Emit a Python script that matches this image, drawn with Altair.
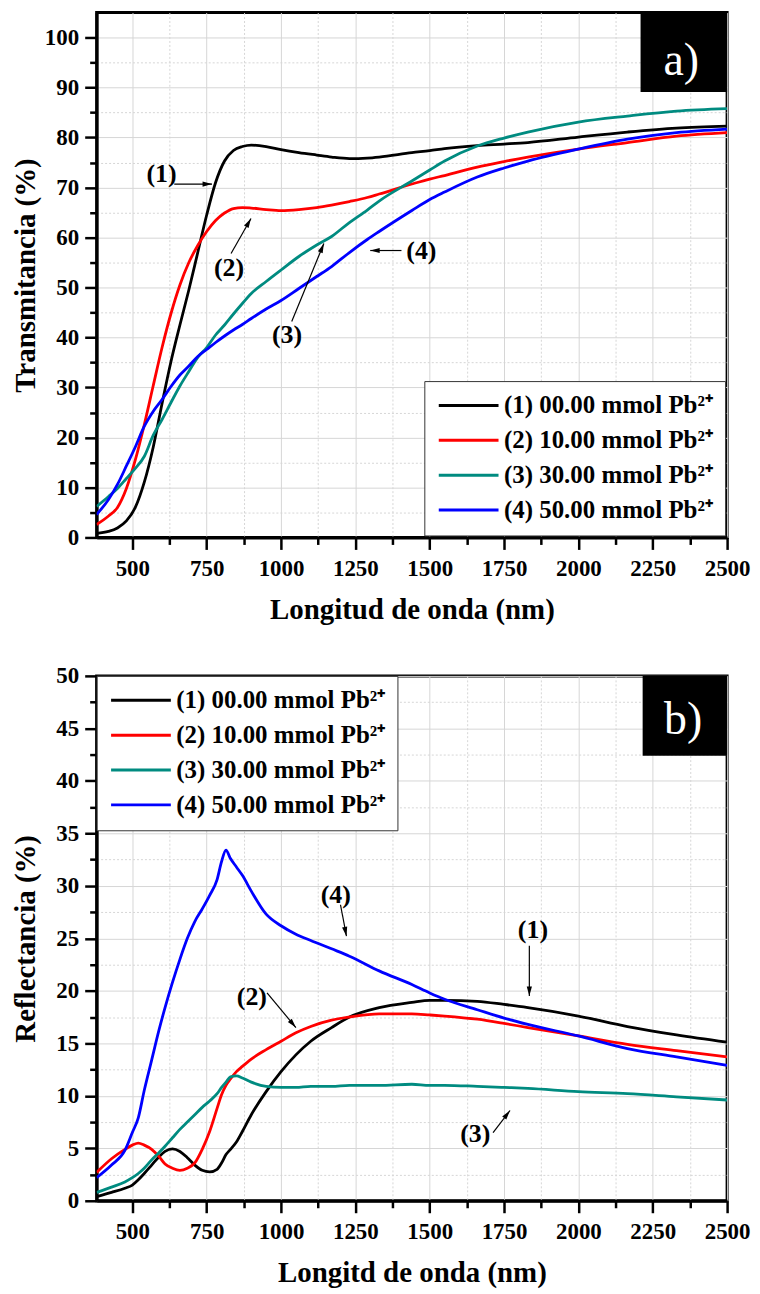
import altair as alt
import pandas as pd

# ---------------- data ----------------
series = ["(1) 00.00 mmol Pb²⁺", "(2) 10.00 mmol Pb²⁺",
          "(3) 30.00 mmol Pb²⁺", "(4) 50.00 mmol Pb²⁺"]
colors = ["#000000", "#ff0000", "#008b80", "#0000ff"]

wl_t = [380, 420, 450, 480, 510, 540, 570, 600, 630, 660, 690, 720, 750, 780, 810,
        840, 870, 900, 950, 1000, 1060, 1120, 1170, 1230, 1290, 1330, 1440, 1500,
        1550, 1660, 1750, 1830, 2000, 2165, 2330, 2500]
t1 = [0.8, 1.2, 1.9, 3.3, 6.0, 11.0, 18.0, 26.8, 35.2, 42.5, 49.5, 57.0, 64.5, 71.0, 75.3,
      77.4, 78.2, 78.5, 78.2, 77.6, 77.0, 76.5, 76.1, 75.8, 75.9, 76.1, 77.0, 77.4,
      77.8, 78.4, 78.7, 79.0, 80.1, 81.1, 81.9, 82.3]
t2 = [2.6, 4.3, 6.0, 9.8, 15.5, 22.5, 30.3, 38.0, 44.8, 50.5, 55.0, 58.4, 61.2, 63.4, 64.9,
      65.8, 66.0, 65.9, 65.6, 65.4, 65.6, 66.0, 66.5, 67.2, 68.0, 68.7, 70.7, 71.7,
      72.4, 74.1, 75.2, 76.1, 77.7, 79.0, 80.3, 81.0]
t3 = [6.2, 8.2, 9.8, 11.8, 13.8, 16.2, 20.4, 23.6, 27.0, 30.3, 33.2, 36.0, 38.0, 40.5, 42.5,
      44.7, 46.8, 48.8, 51.2, 53.5, 56.2, 58.5, 60.2, 63.0, 65.5, 67.3, 71.3, 73.5,
      75.3, 78.3, 79.9, 81.1, 83.1, 84.3, 85.3, 85.8]
t4 = [4.6, 7.6, 10.6, 14.3, 18.1, 22.2, 25.2, 27.6, 30.2, 32.5, 34.3, 36.2, 37.6, 39.0, 40.3,
      41.5, 42.6, 43.8, 45.7, 47.4, 49.8, 52.2, 54.2, 57.0, 59.6, 61.2, 65.4, 67.6,
      69.1, 72.1, 73.9, 75.3, 77.7, 79.7, 81.0, 81.7]

wl_r = [380, 430, 475, 500, 520, 540, 565, 590, 610, 635, 660, 685, 710, 735, 760, 785,
        800, 815, 830, 850, 870, 900, 950, 1000, 1050, 1100, 1170, 1230, 1330, 1440,
        1500, 1550, 1660, 1750, 1830, 2000, 2165, 2330, 2500]
r1 = [0.4, 0.8, 1.2, 1.5, 2.0, 2.6, 3.4, 4.2, 4.7, 4.95, 4.7, 4.1, 3.4, 2.9, 2.75, 3.0,
      3.6, 4.4, 4.9, 5.6, 6.6, 8.2, 10.4, 12.3, 13.9, 15.2, 16.5, 17.5, 18.4, 18.9,
      19.1, 19.1, 19.0, 18.7, 18.4, 17.6, 16.6, 15.8, 15.1]
r2 = [2.7, 4.0, 4.9, 5.3, 5.5, 5.3, 4.9, 4.2, 3.5, 3.1, 2.9, 3.1, 3.6, 4.9, 6.6, 8.8,
      10.1, 11.0, 11.6, 12.3, 12.8, 13.5, 14.4, 15.2, 16.0, 16.6, 17.2, 17.5, 17.8, 17.8,
      17.7, 17.6, 17.3, 16.9, 16.5, 15.7, 14.9, 14.3, 13.7]
r3 = [0.8, 1.3, 1.8, 2.2, 2.6, 3.1, 3.9, 4.6, 5.2, 6.0, 6.8, 7.5, 8.2, 8.9, 9.5, 10.2,
      10.8, 11.3, 11.8, 11.9, 11.7, 11.3, 10.9, 10.8, 10.8, 10.9, 10.9, 11.0, 11.0, 11.1,
      11.0, 11.0, 10.9, 10.8, 10.7, 10.4, 10.2, 9.9, 9.6]
r4 = [2.2, 3.4, 4.8, 6.5, 7.9, 10.5, 13.4, 16.3, 18.4, 20.8, 23.0, 25.0, 26.6, 27.8, 29.1, 30.6,
      32.3, 33.4, 32.6, 31.8, 31.0, 29.5, 27.3, 26.2, 25.4, 24.8, 24.0, 23.3, 21.9, 20.6,
      19.8, 19.2, 18.2, 17.4, 16.8, 15.7, 14.5, 13.7, 12.9]

# annotations (data coordinates)
lab_t = ["(1)", "(2)", "(3)", "(4)"]
lab_t_x = [598, 825, 1020, 1472]
lab_t_y = [72.7, 53.8, 40.4, 57.2]
arr_t_x0 = [641, 832, 1036, 1405]
arr_t_y0 = [70.7, 56.8, 43.2, 57.4]
arr_t_x1 = [768, 899, 1144, 1300]
arr_t_y1 = [70.7, 63.8, 58.8, 57.4]
arr_t_ang = [90, 29.7, 22.3, 270]

lab_r = ["(1)", "(2)", "(3)", "(4)"]
lab_r_x = [1847, 902, 1653, 1184]
lab_r_y = [25.8, 19.4, 6.4, 29.1]
arr_r_x0 = [1835, 953, 1713, 1200]
arr_r_y0 = [24.3, 19.8, 6.5, 28.2]
arr_r_x1 = [1835, 1050, 1770, 1220]
arr_r_y1 = [19.5, 16.5, 8.6, 25.2]
arr_r_ang = [180, 140, 37.7, 169]

box_t = {"x0": 2209, "x1": 2500, "y0": 89.1, "y1": 105, "tx": 2346, "ty": 95.3, "txt": "a)"}
box_r = {"x0": 2216, "x1": 2500, "y0": 42.4, "y1": 50, "tx": 2352, "ty": 45.8, "txt": "b)"}

x_vals = list(range(500, 2501, 125))
y_vals_t = list(range(0, 101, 5))
y_vals_r = [i * 2.5 for i in range(0, 21)]

FONT = "Liberation Serif"
ARROW = "M0,0L-0.55,2L0.55,2Z"
LEG_SYMBOL = "M-1,0L5,0"


def long_df(wl, ys):
    rows = []
    for s, y in zip(series, ys):
        for w, v in zip(wl, y):
            rows.append({"wl": w, "val": v, "serie": s})
    return pd.DataFrame(rows)


def panel(df, ydom, yvals, ymod, ytitle, xtitle, labs, lx, ly, ax0, ay0, ax1, ay1, ang,
          box, legend_orient, legend_offset):
    xs = alt.Scale(domain=[380, 2500], nice=False, zero=False)
    ys = alt.Scale(domain=ydom, nice=False, zero=False)
    xaxis = alt.Axis(
        values=x_vals, title=xtitle, format="d",
        labelExpr="datum.value % 250 === 0 ? datum.label : ''",
        tickSize={"condition": {"test": "datum.value % 250 === 0", "value": 12}, "value": 7},
        gridDash={"condition": {"test": "datum.value % 250 === 0", "value": []}, "value": [2, 2]},
        labelPadding=8, titleY=72, titleBaseline="middle", labelFlush=False, labelOverlap=False,
    )
    yaxis = alt.Axis(
        values=yvals, title=ytitle, format="d",
        labelExpr=f"datum.value % {ymod} === 0 ? datum.label : ''",
        tickSize={"condition": {"test": f"datum.value % {ymod} === 0", "value": 12}, "value": 7},
        gridDash={"condition": {"test": f"datum.value % {ymod} === 0", "value": []}, "value": [2, 2]},
        labelPadding=6, titleX=-71, titleBaseline="middle", labelFlush=False, labelOverlap=False,
    )

    def X(f):
        return alt.X(f, type="quantitative", scale=xs, axis=xaxis)

    def Y(f):
        return alt.Y(f, type="quantitative", scale=ys, axis=yaxis)

    lines = alt.Chart(df).mark_line(strokeWidth=2.8, clip=True, interpolate="monotone").encode(
        x=X("wl"), y=Y("val"),
        color=alt.Color("serie:N", scale=alt.Scale(domain=series, range=colors),
                        sort=series,
                        legend=alt.Legend(
                            title=None, orient=legend_orient, offset=legend_offset,
                            strokeColor="#333333", fillColor="white", padding=12,
                            symbolType=LEG_SYMBOL, symbolSize=400, symbolStrokeWidth=3,
                            labelFont=FONT, labelFontWeight="bold", labelFontSize=25,
                            labelColor="black", labelLimit=500, rowPadding=9,
                            labelOffset=43)),
    )
    ar = pd.DataFrame({"wl": ax0, "val": ay0, "wl2": ax1, "val2": ay1})
    rules = alt.Chart(ar).mark_rule(strokeWidth=1.2, color="black").encode(
        x=X("wl"), y=Y("val"), x2="wl2", y2="val2")
    hd = pd.DataFrame({"wl": ax1, "val": ay1, "ang": ang})
    heads = alt.Chart(hd).mark_point(shape=ARROW, filled=True, color="black", size=90,
                                     opacity=1, strokeWidth=0).encode(
        x=X("wl"), y=Y("val"), angle=alt.Angle("ang:Q", scale=None))
    tx = pd.DataFrame({"wl": lx, "val": ly, "lab": labs})
    texts = alt.Chart(tx).mark_text(font=FONT, fontWeight="bold", fontSize=26,
                                    color="black").encode(x=X("wl"), y=Y("val"), text="lab:N")
    bx = pd.DataFrame({"wl": [box["x0"]], "wl2": [box["x1"]], "val": [box["y0"]],
                       "val2": [box["y1"]]})
    rect = alt.Chart(bx).mark_rect(color="black").encode(
        x=X("wl"), x2="wl2", y=Y("val"), y2="val2")
    bt = pd.DataFrame({"wl": [box["tx"]], "val": [box["ty"]], "lab": [box["txt"]]})
    btxt = alt.Chart(bt).mark_text(font=FONT, fontSize=46, color="white",
                                   baseline="middle").encode(
        x=X("wl"), y=Y("val"), text="lab:N")
    return alt.layer(lines, rules, heads, texts, rect, btxt).properties(width=633, height=527)


top = panel(long_df(wl_t, [t1, t2, t3, t4]), [0, 105], y_vals_t, 10,
            "Transmitancia (%)", "Longitud de onda (nm)",
            lab_t, lab_t_x, lab_t_y, arr_t_x0, arr_t_y0, arr_t_x1, arr_t_y1, arr_t_ang,
            box_t, "bottom-right", 2)
bottom = panel(long_df(wl_r, [r1, r2, r3, r4]), [0, 50], y_vals_r, 5,
               "Reflectancia (%)", "Longitd de onda (nm)",
               lab_r, lab_r_x, lab_r_y, arr_r_x0, arr_r_y0, arr_r_x1, arr_r_y1, arr_r_ang,
               box_r, "top-left", 0)

chart = alt.vconcat(top, bottom, spacing=37).resolve_legend(color="independent").properties(
    padding={"left": 2, "top": 0, "right": 0, "bottom": -1}
).configure_view(stroke="black", strokeWidth=3).configure_axis(
    labelFont=FONT, labelFontWeight="bold", labelFontSize=23, labelColor="black",
    titleFont=FONT, titleFontWeight="bold", titleFontSize=29, titleColor="black",
    domainColor="black", domainWidth=3, tickColor="black", tickWidth=2.5,
    gridColor="#d6d6d6", gridWidth=1,
)

chart.save("out.html", embed_options={"renderer": "svg", "actions": False})
